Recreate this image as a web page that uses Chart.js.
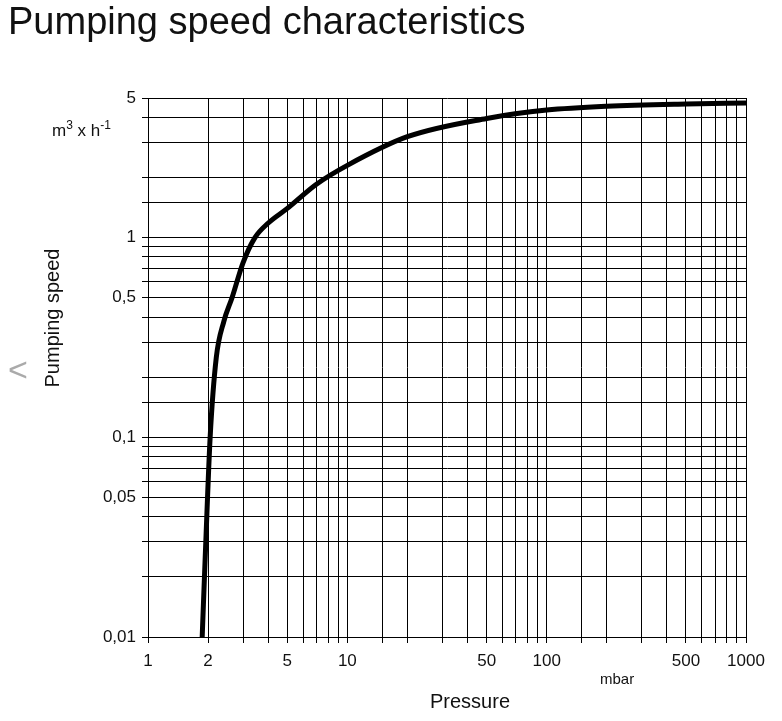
<!DOCTYPE html>
<html>
<head>
<meta charset="utf-8">
<script src="https://cdn.jsdelivr.net/npm/chart.js@4"></script>
<style>
  body { margin: 0; background: #fff; font-family: "Liberation Sans", Arial, sans-serif; }
  #wrap { position: relative; width: 782px; height: 721px; }
  canvas { position: absolute; left: 0; top: 0; }
  .txt { position: absolute; color: #111; white-space: nowrap; }
</style>
</head>
<body>
<div id="wrap">
  <canvas id="speedChart" width="782" height="721"></canvas>
  <div class="txt" style="left:8px;top:0px;font-size:38px;font-weight:300;">Pumping speed characteristics</div>
  <div class="txt" style="left:52px;top:118px;font-size:17px;">m<sup style="font-size:12px">3</sup> x h<sup style="font-size:12px">-1</sup></div>
  <div class="txt" style="left:600px;top:670px;font-size:15px;">mbar</div>
  <div class="txt" style="left:430px;top:690px;font-size:20px;">Pressure</div>
  <div class="txt" style="left:52px;top:318px;font-size:20px;transform:translate(-50%,-50%) rotate(-90deg);">Pumping speed</div>
  <div class="txt" style="left:8px;top:350px;font-size:34px;color:#aaa;font-weight:100;">&lt;</div>
</div>
<script>
// Pressure (mbar) vs pumping speed (m3/h)
const pressure = [1.87, 1.95, 2.05, 2.2, 2.4, 2.64, 3, 3.44, 4, 5, 7, 10, 20, 50, 100, 200, 500, 1000];
const speed    = [0.01, 0.03, 0.1, 0.25, 0.38, 0.5, 0.75, 1.0, 1.18, 1.4, 1.85, 2.3, 3.2, 3.95, 4.35, 4.55, 4.67, 4.72];

const xLabels = [1, 2, 5, 10, 50, 100, 500, 1000];
const yLabels = [0.01, 0.05, 0.1, 0.5, 1, 5];

const tickFont = { family: "Liberation Sans", size: 17 };

new Chart(document.getElementById('speedChart'), {
  type: 'line',
  data: {
    datasets: [{
      data: pressure.map((p, i) => ({ x: p, y: speed[i] })),
      borderColor: '#000',
      borderWidth: 5,
      pointRadius: 0,
      cubicInterpolationMode: 'monotone'
    }]
  },
  options: {
    responsive: false,
    animation: false,
    layout: { padding: { left: 0, top: 98, right: 36, bottom: 0 } },
    plugins: { legend: { display: false }, tooltip: { enabled: false } },
    scales: {
      x: {
        type: 'logarithmic', min: 1, max: 1000,
        afterFit: s => { s.height = 84; },
        grid: { color: '#000', lineWidth: 1, tickLength: 6 },
        border: { color: '#000' },
        ticks: {
          autoSkip: false, maxRotation: 0, color: '#111', font: tickFont, padding: 8,
          callback: v => xLabels.includes(v) ? String(v) : ''
        }
      },
      y: {
        type: 'logarithmic', min: 0.01, max: 5,
        afterFit: s => { s.width = 148; },
        grid: { color: '#000', lineWidth: 1, tickLength: 6 },
        border: { color: '#000' },
        ticks: {
          autoSkip: false, color: '#111', font: tickFont, padding: 6,
          callback: v => yLabels.includes(v) ? String(v).replace('.', ',') : ''
        }
      }
    }
  }
});
</script>
</body>
</html>
